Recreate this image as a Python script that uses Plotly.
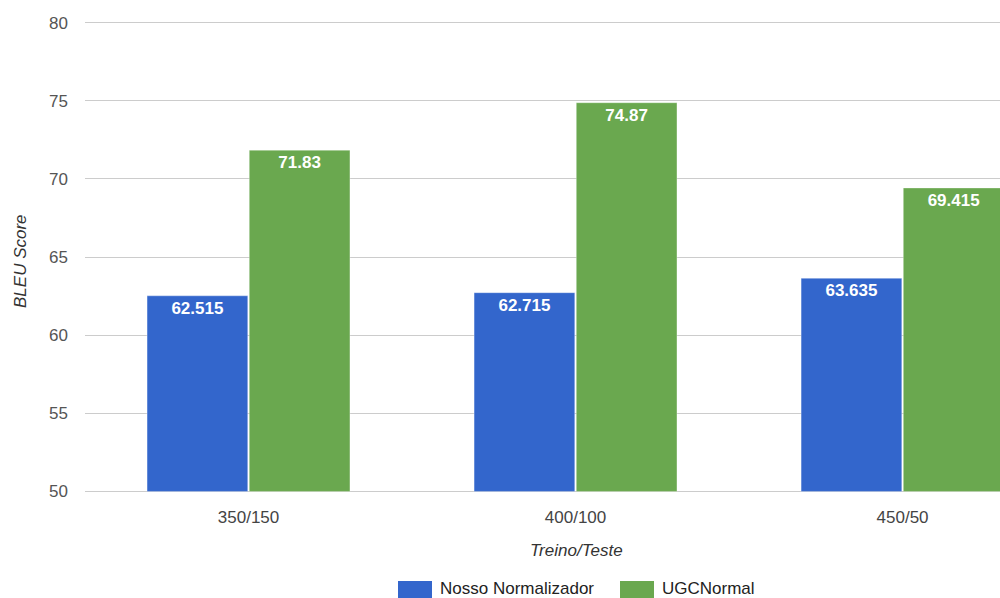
import plotly.graph_objects as go

categories = ["350/150", "400/100", "450/50"]
nosso = [62.515, 62.715, 63.635]
ugc = [71.83, 74.87, 69.415]
series_names = ["Nosso Normalizador", "UGCNormal"]
colors = ["#3366CC", "#6AA84F"]
y_ticks = [50, 55, 60, 65, 70, 75, 80]
x_title = "Treino/Teste"
y_title = "BLEU Score"

FONT = "Liberation Sans, Arial, sans-serif"
BASE = 50

# plot-area geometry in pixels
L, T, Bm = 85, 21, 105
PW, PH = 1000 - L, 598 - T - Bm
BOTTOM = 598 - Bm


def px(xp):
    return (xp - L) / PW


def py(yp):
    return (BOTTOM - yp) / PH


fig = go.Figure()
for name, vals, col in zip(series_names, [nosso, ugc], colors):
    fig.add_trace(go.Bar(
        name=name, x=categories, y=[v - BASE for v in vals], base=BASE,
        marker=dict(color=col, line=dict(color="rgba(255,255,255,0.6)", width=0.5)),
        text=[str(v) for v in vals], textposition="inside", insidetextanchor="end",
        textangle=0,
        textfont=dict(family=FONT, size=17, color="white", weight="bold"),
        showlegend=False,
    ))

annotations = [
    dict(text=x_title, xref="paper", yref="paper", x=px(576), y=py(550),
         xanchor="center", yanchor="middle", showarrow=False,
         font=dict(family=FONT, size=17, color="#333333", style="italic")),
    dict(text=y_title, xref="paper", yref="paper", x=px(20), y=py(261), textangle=-90,
         xanchor="center", yanchor="middle", showarrow=False,
         font=dict(family=FONT, size=17, color="#333333", style="italic")),
]
shapes = []
# manual legend
leg_rect_x = [398, 620]
leg_text_x = [438, 660]
for name, col, rx, tx in zip(series_names, colors, leg_rect_x, leg_text_x):
    shapes.append(dict(type="rect", xref="paper", yref="paper",
                       x0=px(rx), x1=px(rx + 34), y0=py(600), y1=py(581),
                       fillcolor=col, line=dict(width=0)))
    annotations.append(dict(text=name, xref="paper", yref="paper",
                            x=px(tx), y=py(588),
                            xanchor="left", yanchor="middle", showarrow=False,
                            font=dict(family=FONT, size=17, color="#222222")))

fig.update_layout(
    width=1000, height=598,
    margin=dict(l=L, r=0, t=T, b=Bm),
    plot_bgcolor="white", paper_bgcolor="white",
    barmode="group", bargap=0.375, bargroupgap=0.015,
    font=dict(family=FONT, size=17, color="#444444"),
    showlegend=False,
    annotations=annotations, shapes=shapes,
    xaxis=dict(range=[-0.5, 2.298], showgrid=False, ticks="", ticklabelstandoff=12,
               tickfont=dict(size=17, color="#444444")),
    yaxis=dict(range=[49.9, 80.1], tickvals=y_ticks, showgrid=True,
               gridcolor="#CCCCCC", gridwidth=1, zeroline=False, ticks="",
               ticklabelstandoff=16,
               tickfont=dict(size=17, color="#555555")),
)
fig.write_html("out.html", config={"displayModeBar": False},
               post_script="document.body.style.margin='0';document.body.style.overflow='hidden';")
